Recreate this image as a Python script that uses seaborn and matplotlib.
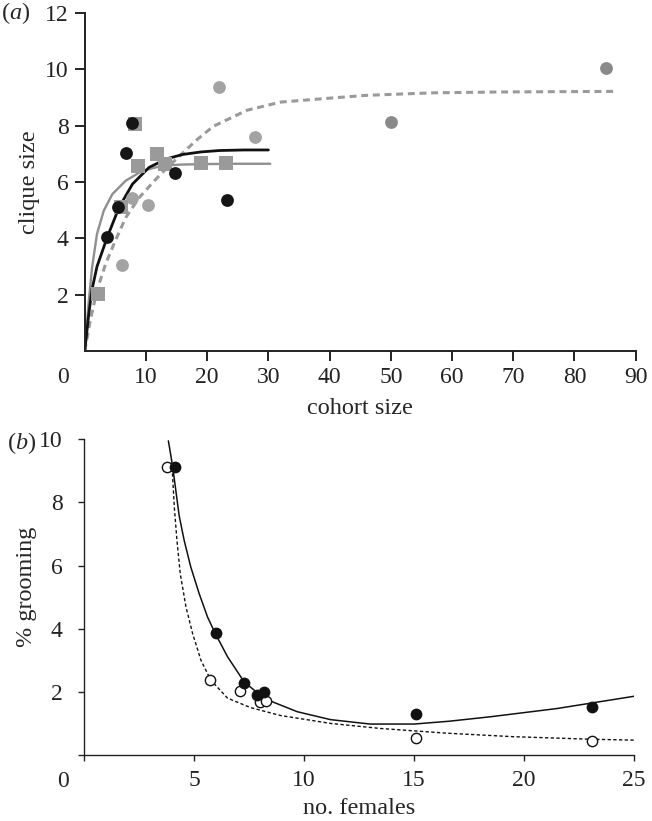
import matplotlib
matplotlib.use('Agg')
import matplotlib.pyplot as plt
import seaborn as sns
sns.set_style('ticks')

plt.rcParams['font.family'] = ['Liberation Serif', 'DejaVu Serif']
plt.rcParams['mathtext.fontset'] = 'custom'
plt.rcParams['mathtext.rm'] = 'Liberation Serif'
plt.rcParams['mathtext.it'] = 'Liberation Serif:italic'
plt.rcParams['lines.scale_dashes'] = False

# panel (a): clique size vs cohort size
black_x = [3.7, 5.46, 6.8, 7.7, 14.8, 23.2]
black_y = [4.05, 5.12, 7.02, 8.11, 6.32, 5.37]
square_x = [2.2, 6.0, 8.2, 8.7, 11.8, 13.1, 19.0, 23.1]
square_y = [2.01, 5.12, 8.07, 6.56, 7.01, 6.65, 6.69, 6.69]
grey_x = [6.1, 7.7, 10.4, 21.9, 27.8]
grey_y = [3.05, 5.45, 5.2, 9.37, 7.6]
far_x = [50.1, 85.1]
far_y = [8.13, 10.06]

black_fit_x = [0, 0.66, 1.2, 2.0, 3.67, 5.6, 7.8, 10.5, 13.3, 16, 19, 22, 26, 30]
black_fit_y = [0, 1.32, 2.2, 3.0, 4.04, 5.1, 5.93, 6.52, 6.82, 6.98, 7.07, 7.12, 7.14, 7.14]
grey_fit_x = [0, 0.66, 1.2, 2.0, 3.1, 4.5, 6.7, 9.4, 12.7, 15.6, 20, 25, 30.3]
grey_fit_y = [0, 1.79, 2.97, 4.16, 4.98, 5.57, 6.05, 6.4, 6.58, 6.62, 6.64, 6.65, 6.65]
dash_fit_x = [0, 0.9, 2.0, 3.4, 5.0, 6.7, 8.9, 11.4, 13.4, 15.6, 18.3, 21.0, 26.5, 32.0, 40.0, 46.0, 57.0, 68.0, 86.5]
dash_fit_y = [0, 1.08, 2.15, 3.09, 3.92, 4.74, 5.45, 6.05, 6.5, 6.95, 7.5, 7.98, 8.55, 8.84, 8.98, 9.08, 9.17, 9.2, 9.22]

# panel (b): % grooming vs no. females
filled_x = [4.13, 5.99, 7.27, 7.85, 8.18, 15.09, 23.08]
filled_y = [9.11, 3.85, 2.28, 1.90, 1.98, 1.30, 1.53]
open_x = [3.75, 5.73, 7.07, 8.0, 8.28, 15.09, 23.1]
open_y = [9.11, 2.39, 2.03, 1.68, 1.70, 0.53, 0.45]

solid_fit_x = [3.83, 4.02, 4.17, 4.32, 4.55, 4.85, 5.23, 5.61, 5.96, 6.52, 7.27, 8.18, 9.69,
               11.2, 13.0, 15.0, 16.6, 18.46, 21.48, 25.0]
solid_fit_y = [9.95, 9.16, 8.37, 7.58, 6.79, 5.95, 5.11, 4.37, 3.85, 3.11, 2.32, 1.79, 1.37,
               1.12, 0.98, 0.98, 1.07, 1.21, 1.47, 1.86]
dot_fit_x = [4.0, 4.1, 4.22, 4.37, 4.63, 4.93, 5.31, 5.76, 6.52, 7.57, 8.93, 11.2, 13.47,
             16.5, 19.5, 23.0, 25.0]
dot_fit_y = [9.1, 7.85, 6.79, 5.74, 4.69, 3.85, 3.0, 2.37, 1.8, 1.5, 1.25, 1.0, 0.84,
             0.69, 0.58, 0.5, 0.47]

fig = plt.figure(figsize=(6.52, 8.21), dpi=100)
ax1 = fig.add_axes([0.130, 0.5725, 0.845, 0.4115])
ax2 = fig.add_axes([0.129, 0.0804, 0.8436, 0.3846])

TICK_FS = 17
LABEL_FS = 17.5

# ---- (a)
sns.lineplot(x=dash_fit_x, y=dash_fit_y, ax=ax1, color='#9a9a9a', lw=2.2,
             linestyle=(0, (5, 3.4)), sort=False, estimator=None, zorder=2)
sns.lineplot(x=grey_fit_x, y=grey_fit_y, ax=ax1, color='#8f8f8f', lw=1.7,
             sort=False, estimator=None, zorder=2)
sns.lineplot(x=black_fit_x, y=black_fit_y, ax=ax1, color='#111111', lw=2.0,
             sort=False, estimator=None, zorder=2)
sns.scatterplot(x=grey_x, y=grey_y, ax=ax1, color='#a3a3a3', s=85, marker='o',
                linewidth=0, zorder=3)
sns.scatterplot(x=far_x, y=far_y, ax=ax1, color='#8a8a8a', s=85, marker='o',
                linewidth=0, zorder=3)
sns.scatterplot(x=square_x, y=square_y, ax=ax1, color='#9a9a9a', s=90, marker='s',
                linewidth=0, zorder=4)
sns.scatterplot(x=black_x, y=black_y, ax=ax1, color='#151515', s=85, marker='o',
                linewidth=0, zorder=5)

ax1.set_xlim(0, 90)
ax1.set_ylim(0, 12)
ax1.set_xticks([10, 20, 30, 40, 50, 60, 70, 80, 90])
ax1.set_yticks([2, 4, 6, 8, 10, 12])
ax1.tick_params(length=7.5, width=1.4, labelsize=TICK_FS, pad=4, colors='#222222')
for s in ['top', 'right']:
    ax1.spines[s].set_visible(False)
for s in ['left', 'bottom']:
    ax1.spines[s].set_linewidth(1.4)
    ax1.spines[s].set_color('#222222')
ax1.set_xlabel('cohort size', fontsize=LABEL_FS)
ax1.set_ylabel('clique size', fontsize=LABEL_FS)
ax1.xaxis.set_label_coords(0.5, -0.139)
ax1.yaxis.set_label_coords(-0.082, 0.5)
ax1.annotate('0', xy=(0, 0), xycoords='axes fraction', xytext=(-16, -11.5),
             textcoords='offset points', ha='center', va='top', fontsize=TICK_FS)

# ---- (b)
sns.lineplot(x=dot_fit_x, y=dot_fit_y, ax=ax2, color='#111111', lw=1.0,
             linestyle=(0, (2.4, 1.7)), sort=False, estimator=None, zorder=2)
sns.lineplot(x=solid_fit_x, y=solid_fit_y, ax=ax2, color='#111111', lw=1.1,
             sort=False, estimator=None, zorder=2)
sns.scatterplot(x=open_x, y=open_y, ax=ax2, facecolor='white', edgecolor='#111111',
                s=55, marker='o', linewidth=1.0, zorder=3)
sns.scatterplot(x=filled_x, y=filled_y, ax=ax2, color='#111111', s=72, marker='o',
                linewidth=0, zorder=4)

ax2.set_xlim(0, 25)
ax2.set_ylim(0, 10)
ax2.set_xticks([0, 5, 10, 15, 20, 25])
ax2.set_xticklabels(['', '5', '10', '15', '20', '25'])
ax2.set_yticks([0, 2, 4, 6, 8, 10])
ax2.set_yticklabels(['', '2', '4', '6', '8', '10'])
ax2.tick_params(length=4.5, width=1.0, labelsize=TICK_FS, colors='#222222')
ax2.tick_params(axis='y', pad=11)
ax2.tick_params(axis='x', pad=6)
for s in ['top', 'right']:
    ax2.spines[s].set_visible(False)
for s in ['left', 'bottom']:
    ax2.spines[s].set_linewidth(1.0)
    ax2.spines[s].set_color('#222222')
ax2.set_xlabel('no. females', fontsize=LABEL_FS)
ax2.set_ylabel('% grooming', fontsize=LABEL_FS)
ax2.xaxis.set_label_coords(0.5, -0.136)
ax2.yaxis.set_label_coords(-0.0855, 0.532)
ax2.annotate('0', xy=(0, 0), xycoords='axes fraction', xytext=(-15, -11.5),
             textcoords='offset points', ha='center', va='top', fontsize=TICK_FS)

fig.text(0.002, 1 - 13 / 821, r'($\mathit{a}$)', fontsize=LABEL_FS, va='center', ha='left')
fig.text(0.010, 1 - 443 / 821, r'($\mathit{b}$)', fontsize=LABEL_FS, va='center', ha='left')

fig.savefig('out.png', dpi=100, facecolor='white')
